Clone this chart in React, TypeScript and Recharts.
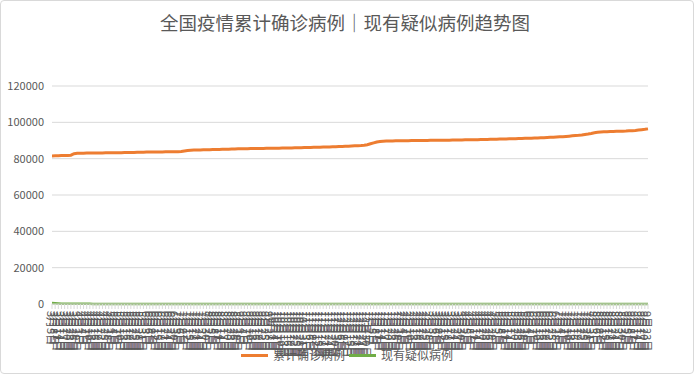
import { LineChart, Line, XAxis, YAxis, CartesianGrid } from "recharts";

// 日期标签（每3天一个）
const dates = [
  "3月5日", "3月8日", "3月11日", "3月14日", "3月17日", "3月20日", "3月23日", "3月26日", "3月29日",
  "4月1日", "4月4日", "4月7日", "4月10日", "4月13日", "4月16日", "4月19日", "4月22日", "4月25日", "4月28日",
  "5月1日", "5月4日", "5月7日", "5月10日", "5月13日", "5月16日", "5月19日", "5月22日", "5月25日", "5月28日", "5月31日",
  "6月3日", "6月6日", "6月9日", "6月12日", "6月15日", "6月18日", "6月21日", "6月24日", "6月27日", "6月30日",
  "7月3日", "7月6日", "7月9日", "7月12日", "7月15日", "7月18日", "7月21日", "7月24日", "7月27日", "7月30日",
  "8月2日", "8月5日", "8月8日", "8月11日", "8月14日", "8月17日", "8月20日", "8月23日", "8月26日", "8月29日",
  "9月1日", "9月4日", "9月7日", "9月10日", "9月13日", "9月16日", "9月19日", "9月22日", "9月25日", "9月28日",
  "10月1日", "10月4日", "10月7日", "10月10日", "10月13日", "10月16日", "10月19日", "10月22日", "10月25日", "10月28日", "10月31日",
  "11月3日", "11月6日", "11月9日", "11月12日", "11月15日", "11月18日", "11月21日", "11月24日", "11月27日", "11月30日",
  "12月3日", "12月6日", "12月9日", "12月12日", "12月15日", "12月18日", "12月21日", "12月24日", "12月27日", "12月30日",
  "1月2日", "1月5日", "1月8日", "1月11日", "1月14日", "1月17日", "1月20日", "1月23日", "1月26日", "1月29日",
  "2月1日", "2月4日", "2月7日", "2月10日", "2月13日", "2月16日", "2月19日", "2月22日", "2月25日", "2月28日",
  "3月3日", "3月6日", "3月9日", "3月12日", "3月15日", "3月18日", "3月21日", "3月24日", "3月27日", "3月30日",
  "4月2日", "4月5日", "4月8日", "4月11日", "4月14日", "4月17日", "4月20日", "4月23日", "4月26日", "4月29日",
  "5月2日", "5月5日", "5月8日", "5月11日", "5月14日", "5月17日", "5月20日", "5月23日", "5月26日", "5月29日",
  "6月1日", "6月4日", "6月7日", "6月10日", "6月13日", "6月16日", "6月19日", "6月22日", "6月25日", "6月28日",
  "7月1日", "7月4日", "7月7日", "7月10日", "7月13日", "7月16日", "7月19日", "7月22日", "7月25日", "7月28日", "7月31日",
  "8月3日", "8月6日", "8月9日", "8月12日", "8月15日", "8月18日", "8月21日", "8月24日", "8月27日", "8月30日",
  "9月2日", "9月5日", "9月8日", "9月11日", "9月14日", "9月17日", "9月20日", "9月23日",
];

// 累计确诊病例
const confirmed = [
  81500, 81560, 81620, 81680, 81740, 81800, 81900, 82700, 83000, 83020,
  83040, 83060, 83080, 83100, 83120, 83150, 83170, 83190, 83210, 83230,
  83250, 83280, 83300, 83330, 83360, 83400, 83450, 83500, 83560, 83600,
  83620, 83640, 83660, 83680, 83700, 83720, 83740, 83760, 83790, 83820,
  83850, 83950, 84250, 84500, 84650, 84720, 84780, 84830, 84880, 84920,
  84960, 85000, 85050, 85100, 85140, 85180, 85230, 85280, 85330, 85400,
  85450, 85480, 85510, 85540, 85570, 85600, 85630, 85660, 85690, 85720,
  85750, 85780, 85800, 85830, 85860, 85890, 85920, 85960, 86000, 86050,
  86100, 86150, 86200, 86240, 86280, 86330, 86380, 86420, 86470, 86520,
  86580, 86640, 86700, 86780, 86860, 86950, 87050, 87150, 87250, 87400,
  87700, 88200, 88700, 89200, 89450, 89600, 89680, 89720, 89760, 89800,
  89830, 89860, 89890, 89920, 89950, 89980, 90000, 90020, 90040, 90060,
  90080, 90100, 90120, 90140, 90160, 90180, 90200, 90230, 90260, 90290,
  90320, 90350, 90380, 90410, 90440, 90480, 90520, 90560, 90600, 90650,
  90690, 90730, 90770, 90810, 90850, 90900, 90950, 91000, 91060, 91120,
  91180, 91240, 91300, 91370, 91440, 91500, 91580, 91660, 91740, 91830,
  91920, 92020, 92130, 92250, 92400, 92550, 92700, 92850, 93050, 93300,
  93550, 93900, 94300, 94550, 94700, 94800, 94880, 94940, 94990, 95040,
  95090, 95140, 95200, 95300, 95420, 95550, 95750, 95950, 96150, 96400,
];

// 现有疑似病例
const suspected = [
  520, 420, 300, 140, 110, 120, 150, 180, 170,
  150, 90, 70, 80, 60, 60, 60, 40, 30, 10,
  6, 5, 4, 3, 4, 3, 3, 4, 3, 4, 4,
  5, 4, 3, 4, 5, 6, 4, 3, 2, 2,
  3, 2, 2, 1, 2, 3, 4, 4, 3, 3,
  3, 2, 2, 2, 1, 1, 2, 2, 2, 2,
  1, 2, 2, 3, 2, 2, 2, 1, 2, 1,
  2, 2, 1, 1, 2, 3, 2, 2, 1, 1, 1,
  1, 2, 2, 1, 1, 2, 3, 2, 2, 2,
  3, 2, 2, 3, 2, 2, 3, 4, 5, 4,
  5, 6, 4, 6, 5, 6, 5, 4, 5, 3,
  3, 2, 2, 1, 1, 1, 1, 1, 1, 2,
  2, 3, 2, 3, 2, 3, 4, 4, 3, 3,
  3, 3, 4, 3, 2, 3, 4, 3, 4, 3,
  3, 4, 3, 3, 4, 3, 4, 5, 4, 4,
  5, 4, 5, 4, 4, 3, 3, 4, 3, 3,
  4, 3, 3, 4, 3, 4, 5, 5, 6, 6, 7,
  6, 5, 5, 4, 3, 3, 2, 2, 3, 2,
  2, 3, 3, 4, 3, 3, 3, 3,
];

const yTicks = [0, 20000, 40000, 60000, 80000, 100000, 120000];

const data = dates.map((date, i) => ({
  date,
  confirmed: confirmed[i],
  suspected: suspected[i],
}));

const FONT = '"Noto Sans CJK SC", "Noto Sans", sans-serif';
const TEXT = "#595959";
const ORANGE = "#ED7D31";
const GREEN = "#70AD47";

const DateTick = (props: any) => {
  const { x, y, payload } = props;
  return (
    <text
      x={x}
      y={y}
      transform={`rotate(90, ${x}, ${y})`}
      textAnchor="start"
      dominantBaseline="central"
      fontSize={11}
      fill={TEXT}
      fontFamily={FONT}
    >
      {payload.value}
    </text>
  );
};

export default function App() {
  return (
    <div
      style={{
        position: "absolute",
        left: 0,
        top: 0,
        width: 694,
        height: 374,
        boxSizing: "border-box",
        border: "1px solid #d9d9d9",
        borderRadius: 4,
        background: "#fff",
        fontFamily: FONT,
        overflow: "hidden",
      }}
    >
      <div
        style={{
          position: "absolute",
          top: 7,
          left: -2,
          width: "100%",
          textAlign: "center",
          fontSize: 18.5,
          lineHeight: "28px",
          color: TEXT,
        }}
      >
        全国疫情累计确诊病例｜现有疑似病例趋势图
      </div>
      <div style={{ position: "absolute", left: -1, top: -1 }}>
        <LineChart
          width={694}
          height={374}
          data={data}
          margin={{ top: 86, right: 46, left: 0, bottom: 0 }}
        >
          <CartesianGrid vertical={false} stroke="#d9d9d9" />
          <XAxis
            dataKey="date"
            interval={0}
            height={70}
            tick={<DateTick />}
            tickSize={5}
            tickMargin={2}
            axisLine={{ stroke: "#d9d9d9" }}
            tickLine={{ stroke: "#d9d9d9" }}
          />
          <YAxis
            width={52}
            domain={[0, 120000]}
            ticks={yTicks}
            axisLine={false}
            tickLine={false}
            tick={{ fontSize: 11, fill: TEXT, fontFamily: FONT }}
          />
          <Line
            type="linear"
            dataKey="confirmed"
            name="累计确诊病例"
            stroke={ORANGE}
            strokeWidth={3}
            dot={false}
            isAnimationActive={false}
          />
          <Line
            type="linear"
            dataKey="suspected"
            name="现有疑似病例"
            stroke={GREEN}
            strokeWidth={2.5}
            dot={false}
            isAnimationActive={false}
          />
        </LineChart>
      </div>
      <div
        style={{
          position: "absolute",
          top: 345,
          left: 0,
          width: "100%",
          display: "flex",
          justifyContent: "center",
          alignItems: "center",
          fontSize: 12,
          color: TEXT,
          lineHeight: "18px",
        }}
      >
        <span style={{ display: "inline-block", width: 27, height: 3, background: ORANGE, marginRight: 5 }} />
        <span style={{ marginRight: 4 }}>累计确诊病例</span>
        <span style={{ display: "inline-block", width: 27, height: 3, background: GREEN, marginRight: 5 }} />
        <span>现有疑似病例</span>
      </div>
    </div>
  );
}
